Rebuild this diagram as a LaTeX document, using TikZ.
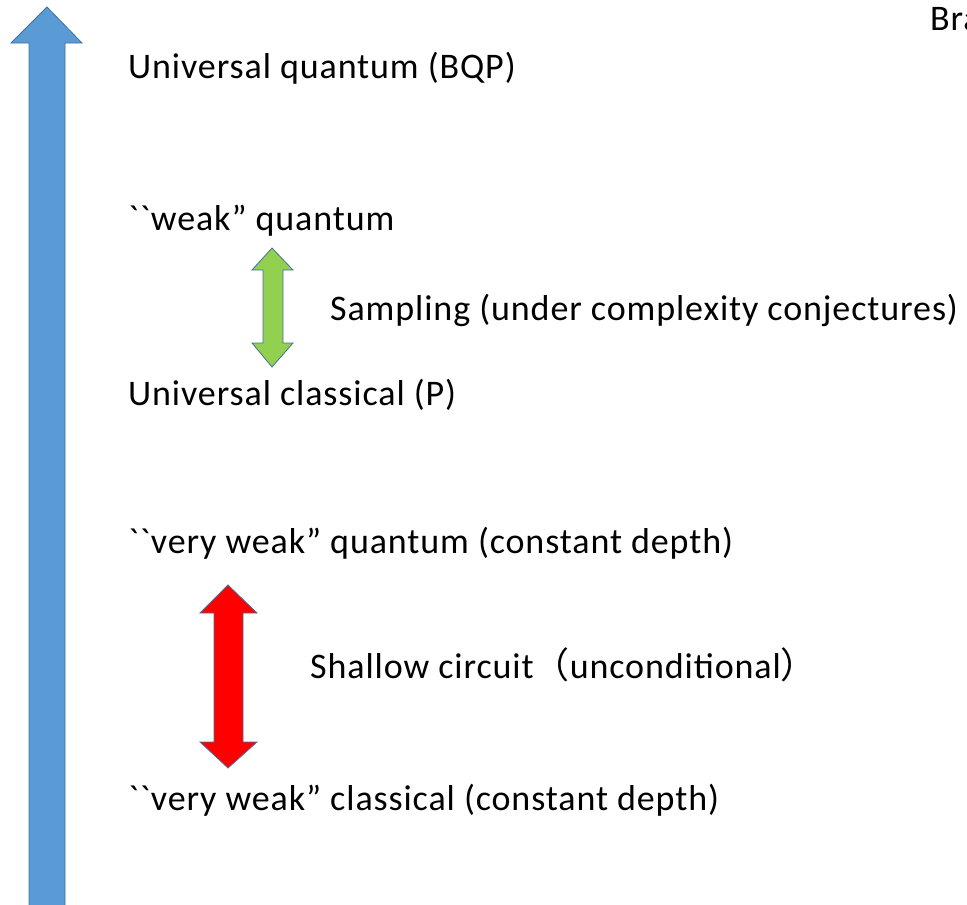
\documentclass[tikz,border=0pt]{standalone}
\usepackage{fontspec}
\newfontfamily\calfont{Carlito}[LetterSpace=2.5]
\newfontfamily\cjkfont{Noto Sans CJK SC}
\tikzset{
  lbl/.style={anchor=base west, inner sep=0pt, font=\calfont\fontsize{36}{40}\selectfont},
  fatarrow/.style={draw=arrowedge, line width=0.8pt, line join=miter},
}
\definecolor{bluefill}{HTML}{5B9BD5}
\definecolor{arrowedge}{HTML}{41719C}
\definecolor{greenfill}{HTML}{92D050}
\definecolor{redfill}{HTML}{FF0000}
\begin{document}
\begin{tikzpicture}[x=1pt,y=-1pt]
\useasboundingbox (0,0) rectangle (967,905);
% big blue arrow
\fill[bluefill, fatarrow] (47,7) -- (82,43) -- (65,43) -- (65,910) -- (29,910) -- (29,43) -- (11,43) -- cycle;
% green double arrow
\fill[greenfill, fatarrow] (272,248) -- (293,270) -- (283,270) -- (283,343) -- (293,343) -- (272,367) -- (252,343) -- (263,343) -- (263,270) -- (252,270) -- cycle;
% red double arrow
\fill[redfill, fatarrow] (228,585) -- (257,613) -- (243,613) -- (243,742) -- (257,742) -- (228,768) -- (200,742) -- (214,742) -- (214,613) -- (200,613) -- cycle;
\node[lbl] (bqp) at (128,78) {Universal quantum (BQP)};
\node[lbl] (weak) at (128,230) {``weak” quantum};
\node[lbl] (samp) at (330,320) {Sampling (under complexity conjectures)};
\node[lbl] (p) at (128,405) {Universal classical (P)};
\node[lbl] (vwq) at (128,553) {``very weak” quantum (constant depth)};
\node[lbl] (shal) at (310,678) {Shallow circuit{\cjkfont （}unconditional{\cjkfont ）}};
\node[lbl] (vwc) at (128,810) {``very weak” classical (constant depth)};
\node[lbl] (bra) at (930,30) {Bra};
\end{tikzpicture}
\end{document}
